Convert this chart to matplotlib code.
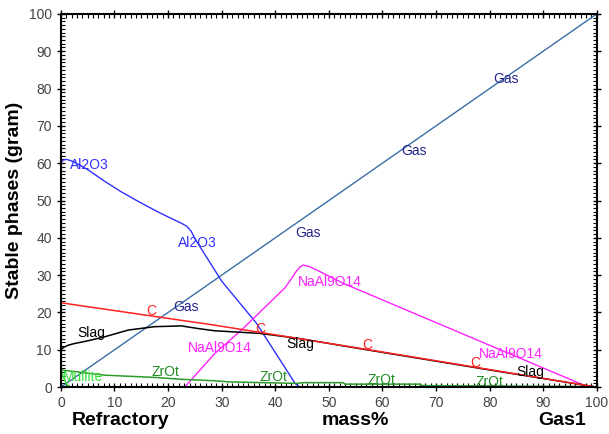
import matplotlib.pyplot as plt
from matplotlib.ticker import MultipleLocator

plt.rcParams['font.family'] = ['Liberation Sans', 'DejaVu Sans']

# phase amounts (gram) vs mass% of Gas1
gas_x = [0, 100]
gas_y = [0, 100]

al2o3_x = [0, 0.5, 1.1, 2.0, 3.5, 5.1, 8.0, 11.3, 14.0, 17.5, 20.0, 22.5, 23.5, 24.3, 25.0, 30.0, 36.5, 43.7, 44.6]
al2o3_y = [60.2, 60.9, 61.0, 60.6, 59.5, 58.2, 55.3, 52.3, 50.1, 47.4, 45.6, 43.9, 43.1, 41.8, 39.8, 28.4, 17.1, 1.0, 0.0]

naal_x = [23.1, 28.7, 33.7, 41.8, 42.8, 43.8, 44.6, 45.2, 46.2, 47.7, 52.7, 96.8, 98.0, 100]
naal_y = [0.0, 9.0, 15.3, 26.6, 28.6, 30.8, 32.2, 32.7, 32.4, 31.4, 27.8, 1.0, 0.0, 0.0]

c_x = [0, 28.7, 55.8, 80, 100]
c_y = [22.6, 16.6, 10.4, 4.7, 0.0]

slag_x = [0, 0.3, 0.7, 1.5, 2.6, 5.0, 8.2, 12.6, 17.5, 22.5, 25.6, 28.7, 37.1, 44.6, 55.8, 80, 100]
slag_y = [9.9, 10.4, 10.8, 11.3, 11.7, 12.4, 13.5, 15.3, 16.2, 16.4, 15.7, 15.1, 14.4, 13.0, 10.3, 4.6, 0.0]

zro2_x = [0, 8.2, 17.5, 22.5, 28.7, 31.5, 44.0, 45.2, 52.6, 53.0, 67.0, 67.5, 95, 100]
zro2_y = [4.6, 3.2, 2.6, 2.1, 1.7, 1.4, 1.0, 1.2, 1.2, 0.8, 0.8, 0.4, 0.2, 0.0]

mullite_x = [0, 0.5, 1.2, 2.0]
mullite_y = [4.8, 2.5, 0.5, 0.0]

# label positions (x, y) per phase
gas_labels = [(21.0, 21.4), (43.7, 41.2), (63.6, 63.3), (80.7, 82.6)]
al2o3_labels = [(1.7, 59.5), (21.8, 38.5)]
naal_labels = [(44.2, 28.2), (23.7, 10.4), (77.9, 8.8)]
c_labels = [(16.0, 20.4), (36.2, 15.7), (56.3, 11.3), (76.3, 6.5)]
slag_labels = [(3.1, 14.6), (42.0, 11.5), (85.0, 4.1)]
zro2_labels = [(16.9, 4.1), (37.1, 2.8), (57.3, 1.9), (77.4, 1.4)]
mullite_labels = [(0.4, 2.6)]

fig = plt.figure(figsize=(6.09, 4.34), dpi=100)
ax = fig.add_axes([0.100, 0.108, 0.880, 0.860])

ax.plot(gas_x, gas_y, color='#3a6ea5', lw=1)
ax.plot(al2o3_x, al2o3_y, color='#3030ff', lw=1)
ax.plot(naal_x, naal_y, color='#ff22ff', lw=1)
ax.plot(slag_x, slag_y, color='black', lw=1.1)
ax.plot(c_x, c_y, color='#ff2020', lw=1.1)
ax.plot(zro2_x, zro2_y, color='#2a9a2a', lw=1.1)
ax.plot(mullite_x, mullite_y, color='#33dd33', lw=1.1)

def put_labels(points, text, color):
    for x, y in points:
        ax.text(x, y, text, color=color, fontsize=10, ha='left', va='center')

put_labels(gas_labels, 'Gas', '#22228b')
put_labels(al2o3_labels, 'Al2O3', '#3030ff')
put_labels(naal_labels, 'NaAl9O14', '#ff22ff')
put_labels(c_labels, 'C', '#ff2020')
put_labels(slag_labels, 'Slag', 'black')
put_labels(zro2_labels, 'ZrOt', '#228b22')
put_labels(mullite_labels, 'Mullite', '#33dd33')

ax.set_xlim(0, 100)
ax.set_ylim(0, 100)
ax.xaxis.set_major_locator(MultipleLocator(10))
ax.xaxis.set_minor_locator(MultipleLocator(1))
ax.yaxis.set_major_locator(MultipleLocator(10))
ax.yaxis.set_minor_locator(MultipleLocator(1))
ax.tick_params(which='major', direction='inout', length=6, width=1,
               top=True, right=True, labelsize=10, labelcolor='#444444')
ax.tick_params(which='minor', direction='in', length=3, width=0.8,
               top=True, right=True)
for s in ax.spines.values():
    s.set_linewidth(1.5)

ax.set_ylabel('Stable phases (gram)', fontsize=14, fontweight='bold', labelpad=4)
ax.text(2, -9, 'Refractory', transform=ax.transData, fontsize=14,
        fontweight='bold', ha='left', va='center', clip_on=False)
ax.text(55, -9, 'mass%', transform=ax.transData, fontsize=14,
        fontweight='bold', ha='center', va='center', clip_on=False)
ax.text(97.9, -9, 'Gas1', transform=ax.transData, fontsize=14,
        fontweight='bold', ha='right', va='center', clip_on=False)

fig.savefig('out.png', dpi=100)
